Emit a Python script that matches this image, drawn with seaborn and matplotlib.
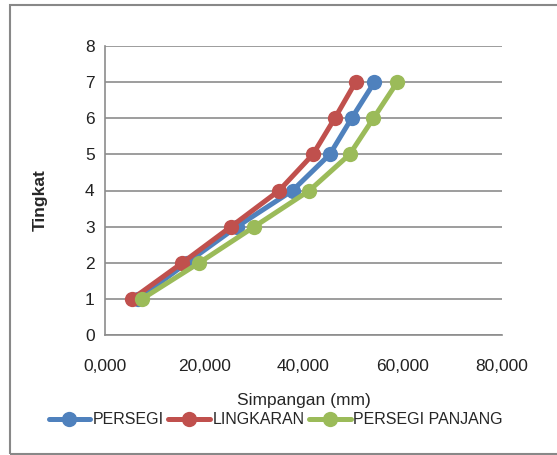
import matplotlib
matplotlib.use('Agg')
import matplotlib.pyplot as plt
import seaborn as sns
import pandas as pd
from matplotlib.patches import Rectangle
from matplotlib.ticker import FuncFormatter

# values
tingkat = [1, 2, 3, 4, 5, 6, 7]
persegi = [6.7, 16.5, 26.6, 37.8, 45.3, 49.7, 54.3]
lingkaran = [5.5, 15.6, 25.4, 35.1, 41.9, 46.3, 50.5]
persegi_panjang = [7.5, 19.0, 30.1, 41.2, 49.3, 54.1, 58.9]

series = ['PERSEGI', 'LINGKARAN', 'PERSEGI PANJANG']
colors = ['#4F81BD', '#C0504D', '#9BBB59']

df = pd.DataFrame({
    'tingkat': tingkat * 3,
    'simpangan': persegi + lingkaran + persegi_panjang,
    'seri': [s for s in series for _ in tingkat],
})

sns.set_style('white')
plt.rcParams['font.family'] = ['Liberation Sans', 'DejaVu Sans']

fig = plt.figure(figsize=(5.57, 4.55), dpi=100)
ax = fig.add_axes([105 / 557, 1 - 335 / 455, 397 / 557, 289 / 455])

sns.lineplot(data=df, x='simpangan', y='tingkat', hue='seri', palette=colors,
             marker='o', markersize=11, markeredgewidth=0, linewidth=3.6,
             sort=False, estimator=None, ax=ax)

ax.set_xlim(0, 80)
ax.set_ylim(0, 8)
ax.set_xticks([0, 20, 40, 60, 80])
ax.set_yticks(range(0, 9))
ax.xaxis.set_major_formatter(FuncFormatter(lambda v, p: f'{int(v)},000'))
ax.grid(axis='y', color='#8c8c8c', linewidth=1.2)
ax.grid(axis='x', visible=False)
for side in ['top', 'right']:
    ax.spines[side].set_visible(False)
for side in ['left', 'bottom']:
    ax.spines[side].set_color('#8c8c8c')
    ax.spines[side].set_linewidth(1.2)
ax.tick_params(axis='both', direction='out', length=4, width=1.2, color='#8c8c8c',
               labelsize=12.5, labelcolor='#222222')
ax.tick_params(axis='x', pad=13)
ax.set_xlabel('Simpangan (mm)', fontsize=12.5, labelpad=14)
ax.set_ylabel('Tingkat', fontsize=12.5, fontweight='bold')
ax.yaxis.set_label_coords(-0.143, 0.467)

handles, labels = ax.get_legend_handles_labels()
ax.legend(handles, labels, loc='upper center', bbox_to_anchor=(0.43, -0.245),
          ncol=3, frameon=False, fontsize=11.5, handlelength=2.6,
          columnspacing=0.3, handletextpad=0.15, borderaxespad=0)

fig.patches.append(Rectangle((10 / 557, 1 - 454 / 455), 560 / 557, 449 / 455,
                             transform=fig.transFigure, fill=False,
                             edgecolor='#888888', linewidth=1.5))

fig.savefig('out.png', dpi=100)
